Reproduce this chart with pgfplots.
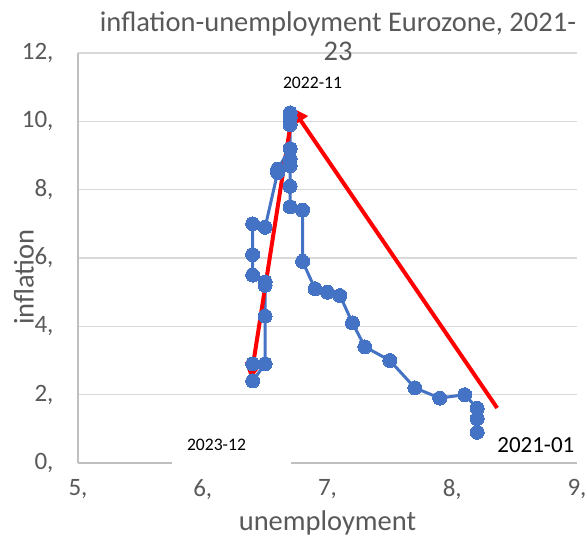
\documentclass[border=0pt]{standalone}
\usepackage{pgfplots}
\pgfplotsset{compat=1.18}
\usepackage{fontspec}
\setmainfont{Carlito}
\usetikzlibrary{arrows.meta}
\definecolor{txt}{RGB}{89,89,89}
\definecolor{ser}{RGB}{68,114,196}
\definecolor{axl}{RGB}{191,191,191}
\definecolor{grd}{RGB}{217,217,217}
\begin{document}
\begin{tikzpicture}[x=1pt,y=1pt]
\useasboundingbox (-78,-78) rectangle (509,463);
\begin{axis}[
  at={(0,0)}, anchor=south west,
  scale only axis, width=499pt, height=410pt,
  xmin=5, xmax=9, ymin=0, ymax=12,
  xtick={5,6,7,8,9}, xticklabels={{5,},{6,},{7,},{8,},{9,}},
  ytick={0,2,4,6,8,10,12}, yticklabels={{0,},{2,},{4,},{6,},{8,},{10,},{12,}},
  axis x line*=bottom, axis y line*=left,
  axis line style={axl, line width=1.5pt, -},
  major tick length=0pt,
  ymajorgrids, major grid style={grd, line width=1.5pt},
  tick label style={font=\fontsize{25}{25}\selectfont, text=txt},
  xticklabel style={anchor=north, yshift=-13pt},
  yticklabel style={anchor=east, xshift=-21pt},
  xlabel={unemployment},
  label style={font=\fontsize{28.5}{28.5}\selectfont, text=txt},
  xlabel style={at={(rel axis cs:0.5,0)}, anchor=center, yshift=-60pt},
  clip=false,
]
\addplot[ser, line width=3pt, mark=*, mark size=7pt, mark options={fill=ser, draw=ser, line width=0pt}] coordinates {
(8.2,0.9)(8.2,0.9)(8.2,1.3)(8.2,1.6)(8.1,2.0)(7.9,1.9)(7.7,2.2)(7.5,3.0)(7.3,3.4)(7.2,4.1)(7.1,4.9)(7.0,5.0)
(6.9,5.1)(6.8,5.9)(6.8,7.4)(6.7,7.5)(6.7,8.1)(6.7,8.7)(6.7,8.9)(6.7,9.2)(6.7,9.9)(6.7,10.25)(6.7,10.1)(6.7,9.2)
(6.6,8.6)(6.6,8.5)(6.5,6.9)(6.4,7.0)(6.4,6.1)(6.4,5.5)(6.5,5.3)(6.5,5.2)(6.5,4.3)(6.5,2.9)(6.4,2.4)(6.4,2.9)
};
\draw[red, line width=4pt, -{Triangle[length=16pt,width=16pt]}] (axis cs:8.36,1.61) -- (axis cs:6.715,10.4);
\draw[red, line width=4pt, -{Triangle[length=16pt,width=16pt]}] (axis cs:6.71,10.05) -- (axis cs:6.385,2.45);
\fill[white] (axis cs:5.75,-0.25) rectangle (axis cs:6.71,1.2);
\node[font=\fontsize{17.6}{17.6}\selectfont] at (axis cs:6.11,0.53) {2023-12};
\node[font=\fontsize{17.6}{17.6}\selectfont] at (axis cs:6.88,11.12) {2022-11};
\node[font=\fontsize{23}{23}\selectfont] at (axis cs:8.67,0.53) {2021-01};
\end{axis}
\node[font=\fontsize{28.5}{28.5}\selectfont, text=txt, rotate=90] at (-54,186) {inflation};
\node[font=\fontsize{28.5}{29}\selectfont, text=txt, align=center] at (260,427) {inflation-unemployment Eurozone, 2021-\\23};
\end{tikzpicture}
\end{document}
